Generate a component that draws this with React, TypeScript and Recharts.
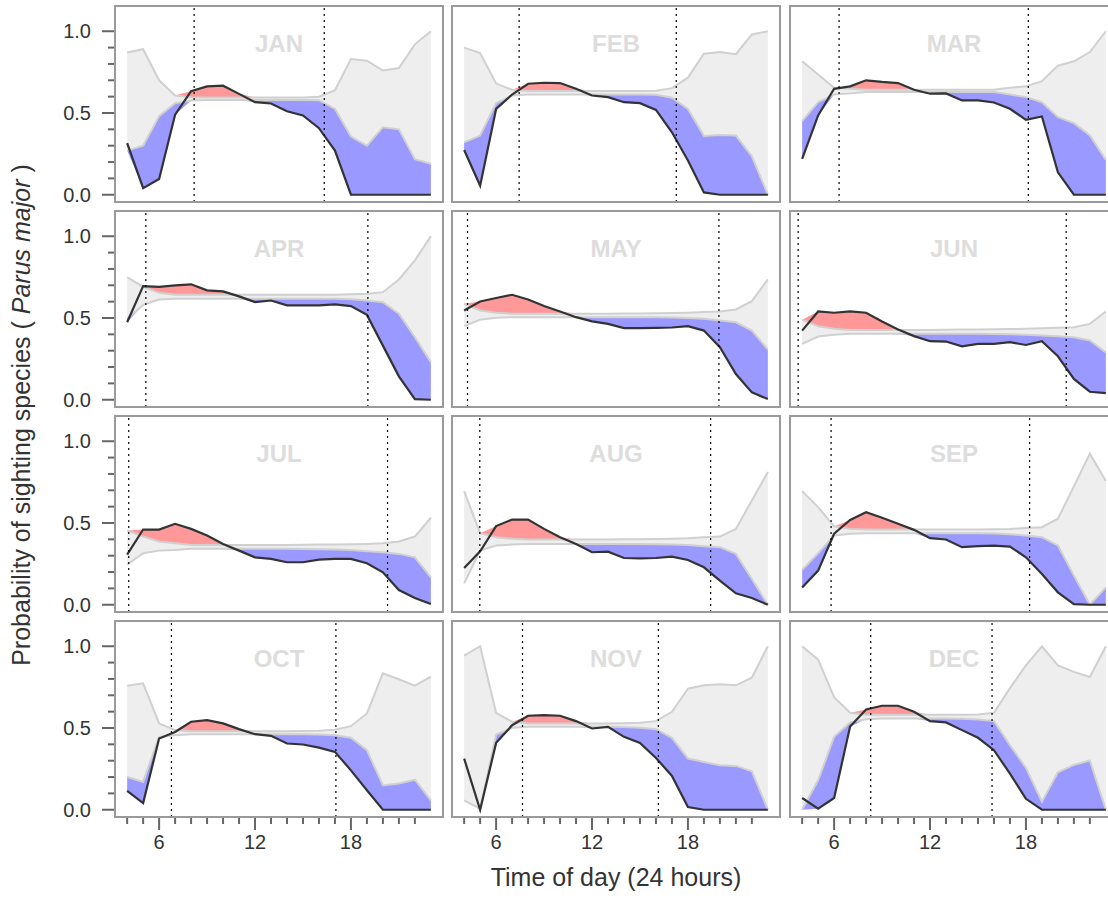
import React from "react";
import { ComposedChart, Area, Line, XAxis, YAxis, ReferenceLine } from "recharts";

const months = ["JAN", "FEB", "MAR", "APR", "MAY", "JUN", "JUL", "AUG", "SEP", "OCT", "NOV", "DEC"];
const hours = [4, 5, 6, 7, 8, 9, 10, 11, 12, 13, 14, 15, 16, 17, 18, 19, 20, 21, 22, 23];
const xTicks = [4, 5, 6, 7, 8, 9, 10, 11, 12, 13, 14, 15, 16, 17, 18, 19, 20, 21, 22];
const yTicks = [0, 0.1, 0.2, 0.3, 0.4, 0.5, 0.6, 0.7, 0.8, 0.9, 1.0];

// sunrise / sunset (hours)
const sunrise = [8.19, 7.44, 6.31, 5.17, 4.21, 3.75, 4.1, 4.98, 5.81, 6.77, 7.65, 8.29];
const sunset = [16.33, 17.27, 18.15, 19.06, 19.94, 20.52, 20.29, 19.42, 18.23, 17.06, 16.15, 15.88];

// null envelope (lo / hi) and observed probability, hours 4..23
const janHi = [0.87, 0.89, 0.7, 0.607, 0.597, 0.595, 0.595, 0.595, 0.595, 0.595, 0.595, 0.595, 0.6, 0.64, 0.83, 0.82, 0.76, 0.775, 0.92, 1.0];
const janLo = [0.27, 0.3, 0.48, 0.56, 0.577, 0.58, 0.58, 0.58, 0.58, 0.58, 0.58, 0.58, 0.578, 0.525, 0.356, 0.3, 0.413, 0.4, 0.217, 0.19];
const janObs = [0.315, 0.04, 0.096, 0.49, 0.634, 0.663, 0.667, 0.617, 0.566, 0.558, 0.511, 0.485, 0.407, 0.27, 0, 0, 0, 0, 0, 0];

const febHi = [0.9, 0.867, 0.68, 0.642, 0.634, 0.634, 0.634, 0.634, 0.634, 0.634, 0.634, 0.634, 0.636, 0.652, 0.716, 0.863, 0.873, 0.86, 0.98, 1.0];
const febLo = [0.32, 0.362, 0.56, 0.607, 0.613, 0.613, 0.613, 0.613, 0.613, 0.613, 0.613, 0.613, 0.612, 0.593, 0.525, 0.36, 0.366, 0.362, 0.235, 0];
const febObs = [0.274, 0.055, 0.525, 0.613, 0.679, 0.685, 0.683, 0.648, 0.607, 0.597, 0.566, 0.56, 0.519, 0.382, 0.209, 0.014, 0, 0, 0, 0];

const marHi = [0.816, 0.736, 0.654, 0.648, 0.642, 0.642, 0.642, 0.642, 0.642, 0.642, 0.642, 0.642, 0.642, 0.654, 0.663, 0.695, 0.79, 0.816, 0.873, 1.0];
const marLo = [0.45, 0.566, 0.613, 0.62, 0.628, 0.628, 0.628, 0.628, 0.628, 0.628, 0.628, 0.628, 0.628, 0.613, 0.597, 0.566, 0.474, 0.438, 0.362, 0.213];
const marObs = [0.219, 0.485, 0.648, 0.663, 0.7, 0.69, 0.683, 0.642, 0.618, 0.62, 0.577, 0.577, 0.564, 0.526, 0.458, 0.479, 0.137, 0, 0, 0];

const aprHi = [0.75, 0.69, 0.654, 0.642, 0.642, 0.642, 0.642, 0.642, 0.642, 0.642, 0.642, 0.642, 0.642, 0.642, 0.645, 0.648, 0.658, 0.736, 0.853, 1.0];
const aprLo = [0.495, 0.58, 0.613, 0.618, 0.618, 0.618, 0.618, 0.618, 0.618, 0.618, 0.618, 0.618, 0.618, 0.618, 0.615, 0.607, 0.597, 0.526, 0.382, 0.229];
const aprObs = [0.474, 0.695, 0.69, 0.7, 0.706, 0.669, 0.663, 0.632, 0.597, 0.607, 0.577, 0.577, 0.577, 0.583, 0.573, 0.519, 0.331, 0.143, 0.004, 0];

const mayHi = [0.587, 0.546, 0.532, 0.526, 0.526, 0.526, 0.526, 0.526, 0.526, 0.526, 0.527, 0.528, 0.529, 0.53, 0.532, 0.536, 0.54, 0.552, 0.603, 0.736];
const mayLo = [0.45, 0.489, 0.501, 0.505, 0.505, 0.505, 0.505, 0.505, 0.505, 0.505, 0.505, 0.505, 0.505, 0.503, 0.5, 0.495, 0.485, 0.474, 0.423, 0.307];
const mayObs = [0.546, 0.601, 0.622, 0.642, 0.613, 0.573, 0.54, 0.505, 0.479, 0.464, 0.438, 0.438, 0.44, 0.442, 0.45, 0.423, 0.321, 0.157, 0.045, 0.004];

const junHi = [0.489, 0.45, 0.434, 0.427, 0.427, 0.427, 0.427, 0.427, 0.427, 0.428, 0.429, 0.43, 0.431, 0.432, 0.434, 0.438, 0.44, 0.444, 0.464, 0.54];
const junLo = [0.342, 0.387, 0.397, 0.403, 0.403, 0.403, 0.403, 0.403, 0.403, 0.403, 0.403, 0.403, 0.402, 0.4, 0.397, 0.393, 0.389, 0.382, 0.362, 0.29];
const junObs = [0.423, 0.54, 0.532, 0.54, 0.532, 0.479, 0.429, 0.389, 0.358, 0.356, 0.327, 0.342, 0.342, 0.352, 0.335, 0.358, 0.266, 0.127, 0.049, 0.041];

const julHi = [0.454, 0.417, 0.387, 0.376, 0.366, 0.366, 0.366, 0.366, 0.366, 0.366, 0.366, 0.367, 0.368, 0.369, 0.37, 0.372, 0.376, 0.387, 0.417, 0.532];
const julLo = [0.245, 0.315, 0.331, 0.335, 0.342, 0.342, 0.342, 0.342, 0.342, 0.342, 0.342, 0.341, 0.34, 0.338, 0.335, 0.327, 0.321, 0.311, 0.29, 0.168];
const julObs = [0.307, 0.46, 0.46, 0.495, 0.464, 0.423, 0.372, 0.331, 0.29, 0.28, 0.26, 0.26, 0.276, 0.28, 0.28, 0.254, 0.198, 0.09, 0.041, 0.004];

const augHi = [0.695, 0.438, 0.413, 0.403, 0.399, 0.399, 0.399, 0.399, 0.399, 0.399, 0.4, 0.401, 0.402, 0.404, 0.407, 0.413, 0.417, 0.464, 0.638, 0.812];
const augLo = [0.131, 0.331, 0.362, 0.368, 0.372, 0.372, 0.372, 0.372, 0.372, 0.372, 0.372, 0.371, 0.37, 0.368, 0.365, 0.358, 0.352, 0.311, 0.157, 0];
const augObs = [0.225, 0.327, 0.481, 0.521, 0.521, 0.464, 0.413, 0.372, 0.321, 0.325, 0.286, 0.284, 0.286, 0.294, 0.274, 0.229, 0.147, 0.07, 0.041, 0];

const sepHi = [0.695, 0.597, 0.479, 0.464, 0.46, 0.46, 0.46, 0.46, 0.46, 0.46, 0.46, 0.46, 0.461, 0.464, 0.47, 0.474, 0.526, 0.724, 0.924, 0.757];
const sepLo = [0.213, 0.315, 0.423, 0.434, 0.438, 0.438, 0.438, 0.438, 0.438, 0.438, 0.438, 0.437, 0.435, 0.431, 0.423, 0.413, 0.362, 0.178, 0, 0.106];
const sepObs = [0.106, 0.209, 0.434, 0.519, 0.566, 0.532, 0.495, 0.458, 0.407, 0.399, 0.352, 0.358, 0.362, 0.356, 0.29, 0.188, 0.076, 0.004, 0, 0];

const octHi = [0.759, 0.773, 0.528, 0.487, 0.48, 0.48, 0.48, 0.48, 0.48, 0.48, 0.48, 0.481, 0.483, 0.49, 0.511, 0.589, 0.834, 0.798, 0.759, 0.814];
const octLo = [0.2, 0.17, 0.446, 0.456, 0.462, 0.462, 0.462, 0.462, 0.462, 0.462, 0.462, 0.462, 0.46, 0.455, 0.44, 0.364, 0.149, 0.16, 0.184, 0.057];
const octObs = [0.115, 0.041, 0.436, 0.476, 0.538, 0.548, 0.528, 0.493, 0.462, 0.452, 0.405, 0.399, 0.38, 0.354, 0.241, 0.119, 0, 0, 0, 0];

const novHi = [0.943, 1.0, 0.593, 0.538, 0.528, 0.528, 0.528, 0.528, 0.528, 0.528, 0.529, 0.532, 0.542, 0.599, 0.74, 0.761, 0.767, 0.761, 0.808, 1.0];
const novLo = [0.057, 0.006, 0.46, 0.501, 0.507, 0.507, 0.507, 0.507, 0.507, 0.507, 0.506, 0.502, 0.493, 0.44, 0.313, 0.292, 0.272, 0.268, 0.235, 0];
const novObs = [0.313, 0, 0.409, 0.517, 0.575, 0.579, 0.575, 0.542, 0.497, 0.507, 0.446, 0.409, 0.317, 0.207, 0.016, 0, 0, 0, 0, 0];

const decHi = [1.0, 0.918, 0.689, 0.593, 0.581, 0.581, 0.581, 0.581, 0.581, 0.581, 0.581, 0.583, 0.593, 0.744, 0.883, 1.0, 0.883, 0.843, 0.812, 1.0];
const decLo = [0, 0.18, 0.446, 0.534, 0.554, 0.558, 0.558, 0.558, 0.558, 0.558, 0.556, 0.552, 0.542, 0.395, 0.256, 0.049, 0.229, 0.274, 0.301, 0];
const decObs = [0.072, 0.006, 0.072, 0.509, 0.613, 0.636, 0.636, 0.599, 0.542, 0.534, 0.487, 0.44, 0.364, 0.221, 0.067, 0, 0, 0, 0, 0];

const his = [janHi, febHi, marHi, aprHi, mayHi, junHi, julHi, augHi, sepHi, octHi, novHi, decHi];
const los = [janLo, febLo, marLo, aprLo, mayLo, junLo, julLo, augLo, sepLo, octLo, novLo, decLo];
const obss = [janObs, febObs, marObs, aprObs, mayObs, junObs, julObs, augObs, sepObs, octObs, novObs, decObs];

const X_DOMAIN = [3.24, 23.76];
const Y_DOMAIN = [-0.0444, 1.1544];
const colLeft = [115, 452, 790];
const rowTop = [6, 211, 416, 621];
const PW = 328;
const PH = 196;
const YW = 80;
const XH = 60;
const PAD = 12; // extra room below non-bottom panels so tick labels are not clipped
const FONT = "'Liberation Sans', Arial, sans-serif";

const YTick = (props: any) => {
  const { x, y, payload } = props;
  const v = Math.round(payload.value * 10) / 10;
  const major = v === 0 || v === 0.5 || v === 1;
  return (
    <g>
      <line x1={x - (major ? 13 : 7)} x2={x} y1={y} y2={y} stroke="#666" strokeWidth={2} />
      {major && (
        <text x={x - 24} y={y} dy={7} textAnchor="end" fontSize={20} fill="#333" fontFamily={FONT}>
          {v.toFixed(1)}
        </text>
      )}
    </g>
  );
};

const XTick = (props: any) => {
  const { x, y, payload } = props;
  const major = payload.value % 6 === 0;
  return (
    <g>
      <line x1={x} x2={x} y1={y} y2={y + (major ? 13 : 7)} stroke="#666" strokeWidth={2} />
      {major && (
        <text x={x} y={y + 32} textAnchor="middle" fontSize={20} fill="#333" fontFamily={FONT}>
          {payload.value}
        </text>
      )}
    </g>
  );
};

const Panel = ({ m }: { m: number }) => {
  const r = Math.floor(m / 3);
  const c = m % 3;
  const hi = his[m];
  const lo = los[m];
  const obs = obss[m];
  const data = hours.map((h, i) => ({
    h,
    band: [lo[i], hi[i]],
    red: [hi[i], Math.max(obs[i], hi[i])],
    blue: [Math.min(obs[i], lo[i]), lo[i]],
    lo: lo[i],
    hi: hi[i],
    obs: obs[i],
  }));
  const left = colLeft[c] - (c === 0 ? YW : 0);
  const w = PW + (c === 0 ? YW : 0);
  const bottomPad = r === 3 ? 0 : PAD;
  const h = PH + (r === 3 ? XH : PAD);
  return (
    <div style={{ position: "absolute", left, top: rowTop[r] }}>
      <ComposedChart width={w} height={h} data={data} margin={{ top: 0, right: 0, bottom: bottomPad, left: 0 }}>
        <XAxis
          dataKey="h"
          type="number"
          domain={X_DOMAIN}
          ticks={xTicks}
          interval={0}
          allowDataOverflow
          hide={r !== 3}
          height={XH}
          tickSize={0}
          tickMargin={0}
          tickLine={false}
          axisLine={false}
          tick={<XTick />}
        />
        <YAxis
          type="number"
          domain={Y_DOMAIN}
          ticks={yTicks}
          interval={0}
          allowDataOverflow
          hide={c !== 0}
          width={YW}
          tickSize={0}
          tickMargin={0}
          tickLine={false}
          axisLine={false}
          tick={<YTick />}
        />
        <Area dataKey="band" type="linear" fill="#eeeeee" fillOpacity={1} stroke="none" isAnimationActive={false} />
        <Area dataKey="red" type="linear" fill="#ff9999" fillOpacity={1} stroke="none" isAnimationActive={false} />
        <Area dataKey="blue" type="linear" fill="#9999ff" fillOpacity={1} stroke="none" isAnimationActive={false} />
        <Line dataKey="hi" type="linear" stroke="#d0d0d0" strokeWidth={2} dot={false} isAnimationActive={false} />
        <Line dataKey="lo" type="linear" stroke="#d0d0d0" strokeWidth={2} dot={false} isAnimationActive={false} />
        <Line dataKey="obs" type="linear" stroke="#333333" strokeWidth={2.2} dot={false} isAnimationActive={false} />
        <ReferenceLine x={sunrise[m]} stroke="#000" strokeWidth={1.2} strokeDasharray="2 4" />
        <ReferenceLine x={sunset[m]} stroke="#000" strokeWidth={1.2} strokeDasharray="2 4" />
      </ComposedChart>
    </div>
  );
};

export default function App() {
  return (
    <div
      style={{
        position: "absolute",
        left: 0,
        top: 0,
        width: 1108,
        height: 920,
        overflow: "hidden",
        background: "#fff",
        fontFamily: FONT,
      }}
    >
      {months.map((_, m) => (
        <Panel key={m} m={m} />
      ))}
      <svg width={1108} height={920} style={{ position: "absolute", left: 0, top: 0, pointerEvents: "none" }}>
        {months.map((name, m) => {
          const r = Math.floor(m / 3);
          const c = m % 3;
          return (
            <g key={name}>
              <rect x={colLeft[c]} y={rowTop[r]} width={PW} height={PH} fill="none" stroke="#9a9a9a" strokeWidth={2} />
              <text
                x={colLeft[c] + PW / 2}
                y={rowTop[r] + 46}
                textAnchor="middle"
                fontSize={24}
                fontWeight="bold"
                fill="#dddddd"
                fontFamily={FONT}
              >
                {name}
              </text>
            </g>
          );
        })}
        <text
          transform="translate(30, 415) rotate(-90)"
          textAnchor="middle"
          fontSize={25}
          fill="#333"
          fontFamily={FONT}
        >
          Probability of sighting species ({" "}
          <tspan fontStyle="italic">Parus major</tspan> )
        </text>
        <text x={616} y={886} textAnchor="middle" fontSize={25} fill="#333" fontFamily={FONT}>
          Time of day (24 hours)
        </text>
      </svg>
    </div>
  );
}
